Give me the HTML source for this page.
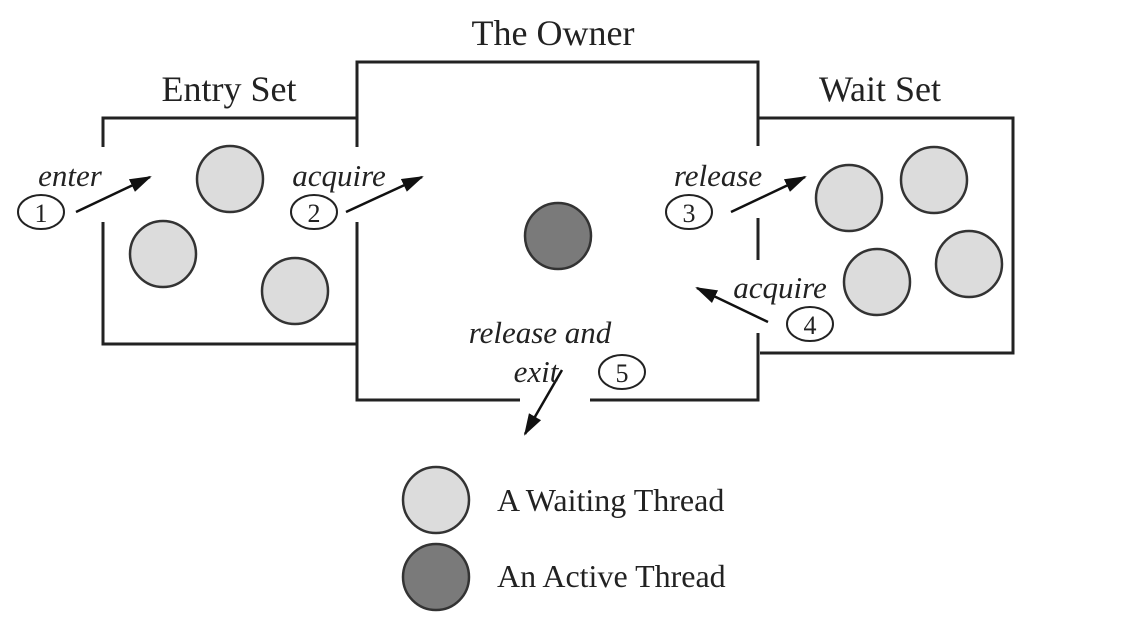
<!DOCTYPE html>
<html><head><meta charset="utf-8"><style>html,body{margin:0;padding:0;background:#fff}svg{display:block}</style></head>
<body>
<svg width="1140" height="644" viewBox="0 0 1140 644" xmlns="http://www.w3.org/2000/svg" font-family="Liberation Serif, serif">
<defs>
<marker id="ah2" markerWidth="22" markerHeight="14" refX="20" refY="7" orient="auto" markerUnits="userSpaceOnUse" viewBox="0 0 22 14">
<path d="M0,0 L22,7 L0,14 z" fill="#111"/></marker>
</defs>
<g stroke="#222" stroke-width="3" fill="none">
<path d="M103,147 V118 H357 V62 H758 V118 H1013 V353 H760"/>
<path d="M103,222 V344 H357"/>
<path d="M357,147 V118"/>
<path d="M357,222 V400 H520"/>
<path d="M590,400 H758 V333"/>
<path d="M758,218 V260"/>
<path d="M758,146 V62"/>
</g>
<g stroke="#333" stroke-width="2.5" fill="#dcdcdc">
<circle cx="230" cy="179" r="33"/>
<circle cx="163" cy="254" r="33"/>
<circle cx="295" cy="291" r="33"/>
<circle cx="849" cy="198" r="33"/>
<circle cx="934" cy="180" r="33"/>
<circle cx="877" cy="282" r="33"/>
<circle cx="969" cy="264" r="33"/>
<circle cx="436" cy="500" r="33"/>
<circle cx="558" cy="236" r="33" fill="#7a7a7a"/>
<circle cx="436" cy="577" r="33" fill="#7a7a7a"/>
</g>
<g stroke="#111" stroke-width="2.5" fill="none">
<line x1="76" y1="212" x2="150" y2="177" marker-end="url(#ah2)"/>
<line x1="346" y1="212" x2="422" y2="177" marker-end="url(#ah2)"/>
<line x1="731" y1="212" x2="805" y2="177" marker-end="url(#ah2)"/>
<line x1="768" y1="322" x2="697" y2="288" marker-end="url(#ah2)"/>
<line x1="562" y1="370" x2="525" y2="434" marker-end="url(#ah2)"/>
</g>
<g stroke="#222" stroke-width="2" fill="#fff">
<ellipse cx="41" cy="212" rx="23" ry="17"/>
<ellipse cx="314" cy="212" rx="23" ry="17"/>
<ellipse cx="689" cy="212" rx="23" ry="17"/>
<ellipse cx="810" cy="324" rx="23" ry="17"/>
<ellipse cx="622" cy="372" rx="23" ry="17"/>
</g>
<g font-size="26" fill="#222" text-anchor="middle">
<text x="41" y="222">1</text>
<text x="314" y="222">2</text>
<text x="689" y="222">3</text>
<text x="810" y="334">4</text>
<text x="622" y="382">5</text>
</g>
<g font-size="36" fill="#222" text-anchor="middle">
<text x="553" y="45">The Owner</text>
<text x="229" y="101">Entry Set</text>
<text x="880" y="101">Wait Set</text>
</g>
<g font-size="31" font-style="italic" fill="#222" text-anchor="middle">
<text x="70" y="186">enter</text>
<text x="339" y="186">acquire</text>
<text x="718" y="186">release</text>
<text x="780" y="298">acquire</text>
<text x="540" y="343">release and</text>
<text x="536" y="382">exit</text>
</g>
<g font-size="32" fill="#222">
<text x="497" y="511">A Waiting Thread</text>
<text x="497" y="587">An Active Thread</text>
</g>
</svg>
</body></html>
